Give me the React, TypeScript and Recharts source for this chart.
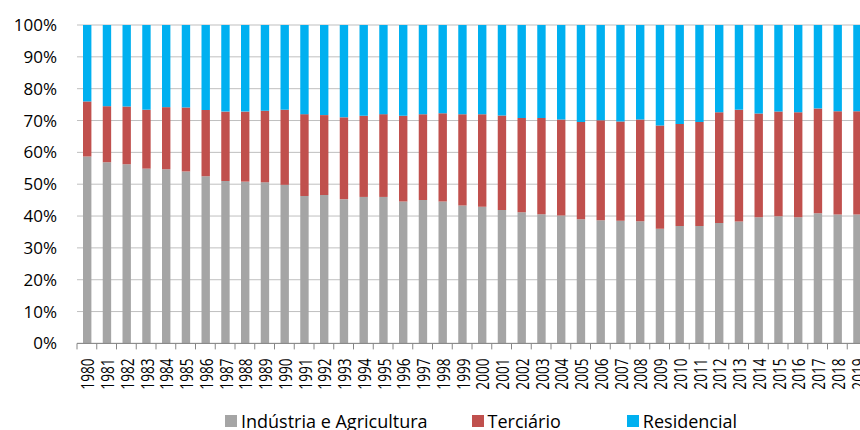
import { BarChart, Bar, XAxis, YAxis, CartesianGrid, Legend } from 'recharts'

const years = [
  '1980', '1981', '1982', '1983', '1984', '1985', '1986', '1987', '1988', '1989',
  '1990', '1991', '1992', '1993', '1994', '1995', '1996', '1997', '1998', '1999',
  '2000', '2001', '2002', '2003', '2004', '2005', '2006', '2007', '2008', '2009',
  '2010', '2011', '2012', '2013', '2014', '2015', '2016', '2017', '2018', '2019',
]

// shares in %
const industria = [
  58.7, 56.9, 56.3, 54.9, 54.7, 54.0, 52.5, 51.0, 50.8, 50.6,
  49.8, 46.3, 46.6, 45.3, 46.0, 46.0, 44.6, 45.0, 44.6, 43.3,
  42.9, 41.9, 41.2, 40.6, 40.2, 39.0, 38.7, 38.5, 38.4, 36.0,
  36.9, 36.9, 37.8, 38.3, 39.6, 39.9, 39.6, 40.9, 40.5, 40.5,
]
const terciario = [
  17.3, 17.6, 18.1, 18.5, 19.5, 20.1, 20.8, 21.8, 22.0, 22.5,
  23.6, 25.7, 25.1, 25.7, 25.5, 26.0, 26.9, 27.0, 27.7, 28.7,
  29.1, 29.7, 29.6, 30.2, 30.1, 30.5, 31.4, 31.2, 31.9, 32.4,
  32.0, 32.6, 34.8, 35.1, 32.6, 32.9, 33.0, 32.9, 32.4, 32.4,
]
const residencial = [
  24.0, 25.5, 25.6, 26.6, 25.8, 25.9, 26.7, 27.2, 27.2, 26.9,
  26.6, 28.0, 28.3, 29.0, 28.5, 28.0, 28.5, 28.0, 27.7, 28.0,
  28.0, 28.4, 29.2, 29.2, 29.7, 30.5, 29.9, 30.3, 29.7, 31.6,
  31.1, 30.5, 27.4, 26.6, 27.8, 27.2, 27.4, 26.2, 27.1, 27.1,
]

const yTicks = [0, 0.1, 0.2, 0.3, 0.4, 0.5, 0.6, 0.7, 0.8, 0.9, 1]

const series = [
  { key: 'industria', name: 'Indústria e Agricultura', color: '#A5A5A5' },
  { key: 'terciario', name: 'Terciário', color: '#C0504D' },
  { key: 'residencial', name: 'Residencial', color: '#00B0F0' },
]

const data = years.map((year, i) => ({
  year,
  industria: industria[i],
  terciario: terciario[i],
  residencial: residencial[i],
}))

const FONT = '"Open Sans", sans-serif'
const CHART_W = 880
const Y_AXIS_W = 77
const MARGIN_RIGHT = 13
const BAND = (CHART_W - Y_AXIS_W - MARGIN_RIGHT) / years.length
const LEGEND_GAPS = [44, 66, 0]

// year label rotated, with the tick mark sitting on the category boundary
function YearTick({ x, y, payload }: any) {
  const left = x - BAND / 2
  return (
    <g>
      <line x1={left} y1={y} x2={left} y2={y + 6} stroke="#868686" />
      <text
        transform={`translate(${x + 7.5},${y + 15}) rotate(-90) scale(0.76,1)`}
        textAnchor="end"
        fontSize={18}
        fontFamily={FONT}
        fill="#000"
      >
        {payload.value}
      </text>
    </g>
  )
}

function LegendBox() {
  return (
    <div style={{ height: 24, display: 'flex', justifyContent: 'flex-start', fontFamily: FONT, fontSize: 18, color: '#000', paddingLeft: 225 }}>
      {series.map((s, i) => (
        <div key={s.key} style={{ display: 'flex', alignItems: 'center', marginRight: LEGEND_GAPS[i], lineHeight: '24px', paddingTop: 6 }}>
          <span style={{ width: 12, height: 12, background: s.color, marginRight: 4, display: 'inline-block' }} />
          <span>{s.name}</span>
        </div>
      ))}
    </div>
  )
}

export default function App() {
  return (
    <div style={{ position: 'absolute', left: 0, top: 0, width: 860, height: 430, overflow: 'hidden', background: '#fff' }}>
      <div style={{ position: 'absolute', left: 0, right: 0, top: -19, textAlign: 'center', paddingLeft: 36, fontFamily: FONT, fontSize: 18, fontWeight: 700, fontStyle: 'italic', color: '#000' }}>
        PERÍODO 1980-2019
      </div>
      <BarChart
        width={CHART_W}
        height={430}
        data={data}
        stackOffset="expand"
        barSize={8.4}
        margin={{ top: 25, right: MARGIN_RIGHT, bottom: 0, left: 0 }}
      >
        <CartesianGrid vertical={false} stroke="#BFBFBF" />
        <XAxis
          dataKey="year"
          interval={0}
          height={62.6}
          tickSize={0}
          tickMargin={0}
          tickLine={false}
          stroke="#868686"
          tick={<YearTick />}
        />
        <YAxis
          width={Y_AXIS_W}
          ticks={yTicks}
          domain={[0, 1]}
          axisLine={false}
          tickLine={false}
          tickSize={0}
          tickMargin={20}
          tickFormatter={(v: number) => `${Math.round(v * 100)}%`}
          tick={{ fontSize: 17, fontFamily: FONT, fill: '#000' }}
        />
        <Legend verticalAlign="bottom" content={<LegendBox />} />
        {series.map((s) => (
          <Bar key={s.key} dataKey={s.key} name={s.name} stackId="a" fill={s.color} isAnimationActive={false} />
        ))}
      </BarChart>
    </div>
  )
}
